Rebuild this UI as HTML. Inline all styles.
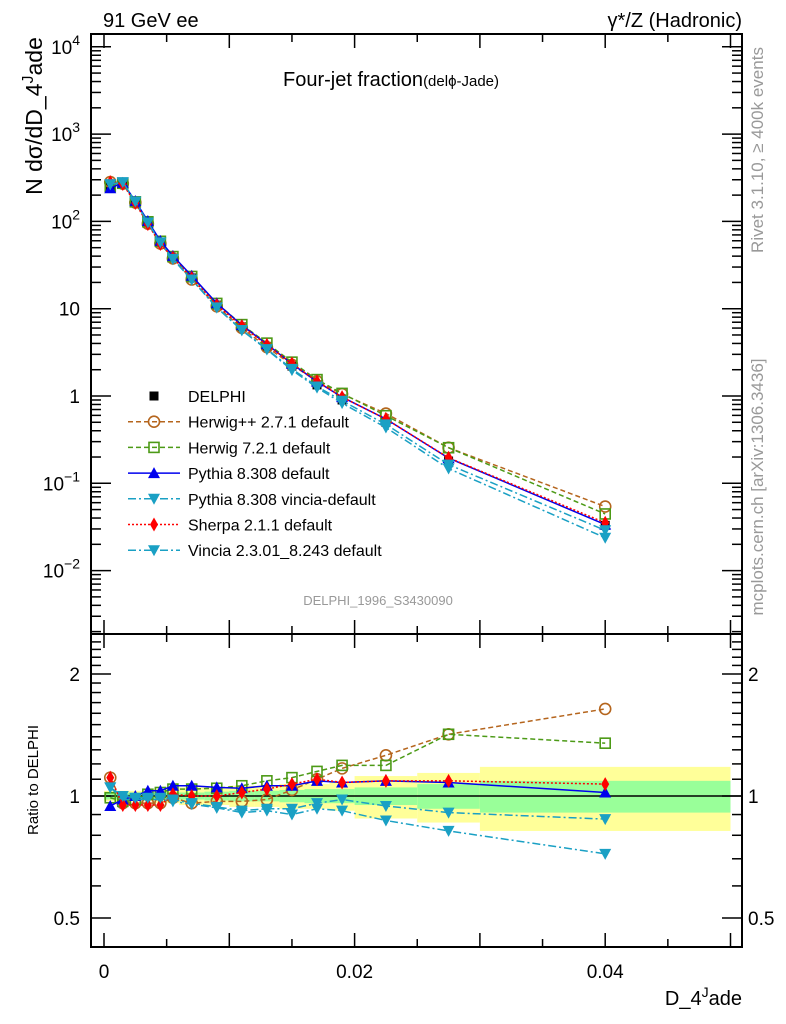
<!DOCTYPE html>
<html><head><meta charset="utf-8"><style>
html,body{margin:0;padding:0;background:#fff;}
svg{display:block;font-family:"Liberation Sans",sans-serif;}
</style></head><body>
<svg id="chart" width="786" height="1024" viewBox="0 0 786 1024">
<g id="bands"></g>
<g id="axes"></g>
<g id="series"></g>
<text x="103" y="27" font-size="20">91 GeV ee</text>
<text x="742" y="27" font-size="20" text-anchor="end">γ*/Z (Hadronic)</text>
<text x="283" y="86" font-size="20">Four-jet fraction<tspan font-size="15">(delϕ-Jade)</tspan></text>
<text x="378" y="605" font-size="13" fill="#999" text-anchor="middle">DELPHI_1996_S3430090</text>
<text transform="translate(42,116) rotate(-90)" font-size="23" text-anchor="middle">N dσ/dD_4<tspan dy="-9" font-size="16">J</tspan><tspan dy="9">ade</tspan></text>
<text transform="translate(38,780) rotate(-90)" font-size="15" text-anchor="middle">Ratio to DELPHI</text>
<text x="742" y="1005" font-size="20" text-anchor="end">D_4<tspan dy="-8" font-size="14">J</tspan><tspan dy="8">ade</tspan></text>
<text transform="translate(763,150) rotate(-90)" font-size="17" fill="#999" text-anchor="middle">Rivet 3.1.10, ≥ 400k events</text>
<text transform="translate(763,487) rotate(-90)" font-size="17" fill="#999" text-anchor="middle">mcplots.cern.ch [arXiv:1306.3436]</text>
<g id="legend"></g>
</svg>
<script>
const xCenters=[0.0005,0.0015,0.0025,0.0035,0.0045,0.0055,0.007,0.009,0.011,0.013,0.015,0.017,0.019,0.0225,0.0275,0.04];
const binEdges=[0,0.001,0.002,0.003,0.004,0.005,0.006,0.008,0.010,0.012,0.014,0.016,0.018,0.020,0.025,0.030,0.050];
const delphi=[254,282,171,98,58,38,22.5,11,6.2,3.7,2.2,1.34,0.9,0.5,0.18,0.033];
const greenHalf=[0.02,0.02,0.02,0.02,0.02,0.02,0.02,0.025,0.03,0.03,0.035,0.04,0.04,0.05,0.07,0.09];
const yellowHalf=[0.03,0.03,0.03,0.03,0.04,0.04,0.05,0.05,0.06,0.06,0.07,0.07,0.08,0.12,0.14,0.18];
const rHerwigpp=[1.11,0.96,0.96,0.96,0.96,0.99,0.96,0.97,0.97,0.98,1.035,1.10,1.17,1.26,1.42,1.64];
const rHerwig7=[0.99,0.97,0.98,1.01,1.02,1.04,1.04,1.045,1.06,1.09,1.11,1.15,1.19,1.19,1.42,1.35];
const rPythia=[0.945,0.98,1.0,1.03,1.03,1.06,1.06,1.05,1.045,1.06,1.06,1.09,1.08,1.09,1.08,1.02];
const rPythiaVincia=[1.05,0.98,0.98,0.98,0.98,0.97,0.955,0.935,0.91,0.92,0.90,0.93,0.92,0.87,0.82,0.72];
const rSherpa=[1.11,0.95,0.95,0.95,0.95,1.01,1.0,1.0,1.02,1.04,1.07,1.10,1.08,1.09,1.09,1.07];
const rVincia=[1.05,1.0,0.99,0.99,0.99,0.98,0.96,0.94,0.92,0.93,0.93,0.96,0.98,0.945,0.91,0.877];
const yTickExp=[-2,-1,0,1,2,3,4];
const xTickLabels=[0,0.02,0.04];
const ratioTickLabels=[0.5,1,2];

const NS="http://www.w3.org/2000/svg";
const L=91,R=742,T=34,MB=634,RB=947;
const X=v=>104+v*12530;
const Y=v=>396-87.3*Math.log10(v);
const YR=v=>796-122*Math.log2(v);
function mk(tag,attrs,parent){const e=document.createElementNS(NS,tag);for(const k in attrs)e.setAttribute(k,attrs[k]);parent.appendChild(e);return e;}
const axes=document.getElementById('axes'),bands=document.getElementById('bands'),ser=document.getElementById('series'),leg=document.getElementById('legend');

for(let i=0;i<xCenters.length;i++){
 const x0=X(binEdges[i]),x1=X(binEdges[i+1]);
 let r=mk('rect',{x:x0,y:YR(1+yellowHalf[i]),width:x1-x0,height:YR(1-yellowHalf[i])-YR(1+yellowHalf[i]),fill:'#ffff99'},bands);
 
 
 let g=mk('rect',{x:x0,y:YR(1+greenHalf[i]),width:x1-x0,height:YR(1-greenHalf[i])-YR(1+greenHalf[i]),fill:'#99ff99'},bands);
 
 
}
mk('rect',{x:L,y:T,width:R-L,height:MB-T,fill:'none',stroke:'#000','stroke-width':2},axes);
mk('rect',{x:L,y:MB,width:R-L,height:RB-MB,fill:'none',stroke:'#000','stroke-width':2},axes);
mk('line',{x1:L,x2:R,y1:YR(1),y2:YR(1),stroke:'#000','stroke-width':1.5},axes);
for(let k=0;k<=10;k++){const v=k*0.005,x=X(v);const len=(k%2==0)?14:8;
 [[T,T+len],[MB,MB-len],[MB,MB+len],[RB,RB-len]].forEach(p=>mk('line',{x1:x,x2:x,y1:p[0],y2:p[1],stroke:'#000','stroke-width':1.5},axes));}
xTickLabels.forEach(v=>{const t=mk('text',{x:X(v),y:978,'font-size':19,'text-anchor':'middle'},axes);t.textContent=String(v);
 
 });
for(let e=-3;e<=4;e++){for(let m=1;m<10;m++){const v=m*Math.pow(10,e),y=Y(v);if(y<T||y>MB)continue;const len=m==1?20:10;
 mk('line',{x1:L,x2:L+len,y1:y,y2:y,stroke:'#000','stroke-width':1.5},axes);mk('line',{x1:R,x2:R-len,y1:y,y2:y,stroke:'#000','stroke-width':1.5},axes);}}
yTickExp.forEach(e=>{const y=Y(Math.pow(10,e));const t=mk('text',{x:80,y:y+7,'font-size':19,'text-anchor':'end'},axes);
 
 
 if(e==0)t.textContent='1';else if(e==1)t.textContent='10';else{t.textContent='10';const s=mk('tspan',{dy:-9,'font-size':14},t);s.textContent=e==-1?'−1':e==-2?'−2':String(e);}});
for(let v=0.4;v<=2.6;v+=0.1){const y=YR(v);if(y<MB+2||y>RB-2)continue;const major=Math.abs(v-0.5)<1e-6||Math.abs(v-1)<1e-6||Math.abs(v-2)<1e-6;const len=major?20:10;
 mk('line',{x1:L,x2:L+len,y1:y,y2:y,stroke:'#000','stroke-width':1.5},axes);mk('line',{x1:R,x2:R-len,y1:y,y2:y,stroke:'#000','stroke-width':1.5},axes);}
ratioTickLabels.forEach(v=>{const y=YR(v)+7;
 const a=mk('text',{x:80,y:y,'font-size':19,'text-anchor':'end'},axes);a.textContent=String(v);
 
 
 const b=mk('text',{x:748,y:y,'font-size':19},axes);b.textContent=String(v);
 
 });

function marker(kind,x,y,color,parent){
 if(kind=='sq')return mk('rect',{x:x-4.5,y:y-4.5,width:9,height:9,fill:'#000'},parent);
 if(kind=='circ')return mk('circle',{cx:x,cy:y,r:5.5,fill:'none',stroke:color,'stroke-width':1.6},parent);
 if(kind=='osq')return mk('rect',{x:x-5,y:y-5,width:10,height:10,fill:'none',stroke:color,'stroke-width':1.6},parent);
 if(kind=='up')return mk('polygon',{points:`${x},${y-6} ${x-6},${y+5} ${x+6},${y+5}`,fill:color},parent);
 if(kind=='down')return mk('polygon',{points:`${x},${y+6} ${x-6},${y-5} ${x+6},${y-5}`,fill:color},parent);
 if(kind=='dia')return mk('polygon',{points:`${x},${y-7} ${x-4},${y} ${x},${y+7} ${x+4},${y}`,fill:color},parent);
}
xCenters.forEach((x,i)=>{const m=marker('sq',X(x),Y(delphi[i]),'#000',ser);
 
 });
const series=[
 {name:'Herwig++ 2.7.1 default',r:rHerwigpp,color:'#b5651d',dash:'5,3',kind:'circ',id:'herwigpp'},
 {name:'Herwig 7.2.1 default',r:rHerwig7,color:'#4c9a16',dash:'5,3',kind:'osq',id:'herwig7'},
 {name:'Pythia 8.308 default',r:rPythia,color:'#0000ee',dash:'',kind:'up',id:'pythia'},
 {name:'Pythia 8.308 vincia-default',r:rPythiaVincia,color:'#1aa0c4',dash:'8,3,2,3',kind:'down',id:'pythia-vincia'},
 {name:'Sherpa 2.1.1 default',r:rSherpa,color:'#ff0000',dash:'2,2',kind:'dia',id:'sherpa'},
 {name:'Vincia 2.3.01_8.243 default',r:rVincia,color:'#1aa0c4',dash:'8,3,2,3',kind:'down',id:'vincia'}
];
series.forEach(s=>{
 const g=mk('g',{},ser);
 
 
 const pm=xCenters.map((x,i)=>X(x)+','+Y(delphi[i]*s.r[i])).join(' ');
 const pr=xCenters.map((x,i)=>X(x)+','+YR(s.r[i])).join(' ');
 [pm,pr].forEach(p=>{const l=mk('polyline',{points:p,fill:'none',stroke:s.color,'stroke-width':1.5,'stroke-dasharray':s.dash},g);
  
  });
 xCenters.forEach((x,i)=>{
  const a=marker(s.kind,X(x),Y(delphi[i]*s.r[i]),s.color,g);
  
  
  const b=marker(s.kind,X(x),YR(s.r[i]),s.color,g);
  
  
 });
});
const ly0=396,dy=25.7;
marker('sq',154,ly0,'#000',leg);
const dt=mk('text',{x:188,y:ly0+6,'font-size':16},leg);dt.textContent='DELPHI';


series.forEach((s,i)=>{const y=ly0+dy*(i+1);
 mk('line',{x1:128,x2:180,y1:y,y2:y,stroke:s.color,'stroke-width':1.5,'stroke-dasharray':s.dash},leg);
 marker(s.kind,154,y,s.color,leg);
 const t=mk('text',{x:188,y:y+6,'font-size':16},leg);t.textContent=s.name;
 
 });
</script>
</body></html>
